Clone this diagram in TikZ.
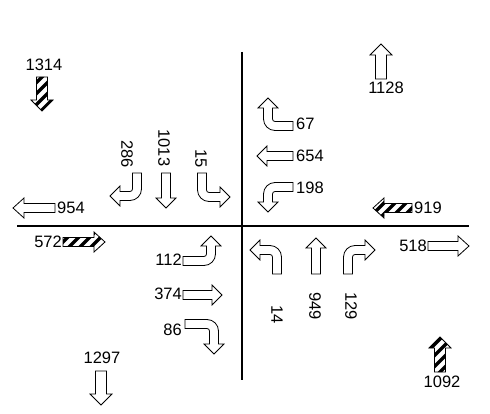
\documentclass[tikz,border=0pt]{standalone}
\usepackage{fontspec}
\setmainfont{Liberation Sans}
\newcommand\ArS{4.5}
\newcommand\ArH{10}
\newcommand\ArR{7}
\newcommand\ArHl{10}
\tikzset{
  arrowline/.style={draw=black, line width=0.8pt, line join=miter},
  hatchline/.style={line width=3.4pt, black},
  road/.style={line width=2.5pt, black},
  lbl/.style={inner sep=0pt, font=\fontsize{16.5}{18}\selectfont},
}
% straight arrow: x, y (image coords), angle, length, half shaft, half head, head length, hatched
\newcommand\SArrow[8]{%
  \begin{scope}[shift={(#1,413-#2)}, rotate=#3-90]
    \def\ArrPath{(-#5,0) -- (#5,0) -- (#5,#4-#7) -- (#6,#4-#7) -- (0,#4) -- (-#6,#4-#7) -- (-#5,#4-#7) -- cycle}
    \ifnum#8=1
      \fill[white] \ArrPath;
      \begin{scope}
        \clip \ArrPath;
        \begin{scope}[rotate=90-#3]
          \foreach \k in {-7,...,7} \draw[hatchline] (\k*11-50,-50) -- ++(100,100);
        \end{scope}
      \end{scope}
      \draw[arrowline] \ArrPath;
    \else
      \draw[arrowline, fill=white] \ArrPath;
    \fi
  \end{scope}}
% turn arrow: x, y (image coords), start angle, a, b, mirror (1 right turn, -1 left turn)
\newcommand\TArrow[6]{%
  \begin{scope}[shift={(#1,413-#2)}, rotate=#3-90, xscale=#6]
    \draw[arrowline, fill=white] (-\ArS,0) -- (\ArS,0) -- (\ArS,#4)
      arc[start angle=180, end angle=90, radius=\ArR-\ArS] -- ++(#5,0)
      -- ++(0,\ArS-\ArH) -- ++(\ArHl,\ArH) -- ++(-\ArHl,\ArH) -- ++(0,\ArS-\ArH)
      -- ++(-#5,0) arc[start angle=90, end angle=180, radius=\ArR+\ArS] -- cycle;
  \end{scope}}
\begin{document}
\begin{tikzpicture}[x=1pt, y=1pt]
\useasboundingbox (0,0) rectangle (490,413);
% roads
\coordinate (vt) at (242,361);
\coordinate (vb) at (242,33);
\coordinate (hl) at (17,187);
\coordinate (hr) at (469,187);
\draw[road] (vt) -- (vb);
\draw[road] (hl) -- (hr);

% corner arrows
\SArrow{42}{77}{270}{34}{5.5}{11}{11}{1}
\SArrow{381}{79}{90}{35}{5.5}{11}{11}{0}
\SArrow{101}{371}{270}{34}{5.5}{11}{11}{0}
\SArrow{440}{372}{90}{35}{5.5}{11}{11}{1}
\SArrow{55}{208}{180}{42}{4.5}{10}{11}{0}
\SArrow{63}{242}{0}{42}{4.5}{10}{11}{1}
\SArrow{412}{208}{180}{39}{4.5}{10}{11}{1}
\SArrow{428}{246}{0}{41}{4.5}{10}{11}{0}

\node[lbl] (l1314) at (44,348) {1314};
\node[lbl] (l1128) at (386,325) {1128};
\node[lbl] (l1297) at (102,55) {1297};
\node[lbl] (l1092) at (442,31) {1092};
\node[lbl, anchor=west] (l954) at (57,205) {954};
\node[lbl, anchor=east] (l572) at (62,171) {572};
\node[lbl, anchor=west] (l919) at (414,205) {919};
\node[lbl, anchor=east] (l518) at (427,167) {518};

% westbound (NE)
\TArrow{293}{126}{180}{18}{11}{1}
\SArrow{293}{156}{180}{36}{4.5}{10}{10}{0}
\TArrow{293}{187}{180}{18}{8}{-1}
\node[lbl, anchor=west] (l67) at (296,289) {67};
\node[lbl, anchor=west] (l654) at (296,257) {654};
\node[lbl, anchor=west] (l198) at (296,225) {198};

% southbound (NW)
\TArrow{137}{173}{270}{16}{10}{1}
\SArrow{166}{173}{270}{35}{4.5}{10}{10}{0}
\TArrow{202}{173}{270}{17}{11}{-1}
\node[lbl, rotate=-90] (l286) at (127,259) {286};
\node[lbl, rotate=-90] (l1013) at (164,265) {1013};
\node[lbl, rotate=-90] (l15) at (201,254) {15};

% eastbound (SW)
\TArrow{183}{261}{0}{21}{8}{-1}
\SArrow{183}{295}{0}{39}{4.5}{10}{10}{0}
\TArrow{185}{324}{0}{22}{13}{1}
\node[lbl, anchor=east] (l112) at (182,153) {112};
\node[lbl, anchor=east] (l374) at (182,119) {374};
\node[lbl, anchor=east] (l86) at (182,83) {86};

% northbound (SE)
\TArrow{277}{274}{90}{17}{10}{-1}
\SArrow{316}{274}{90}{36}{4.5}{10}{10}{0}
\TArrow{348}{274}{90}{17}{10}{1}
\node[lbl, rotate=-90] (l14) at (277,98) {14};
\node[lbl, rotate=-90] (l949) at (315,107) {949};
\node[lbl, rotate=-90] (l129) at (351,107) {129};
\end{tikzpicture}
\end{document}
